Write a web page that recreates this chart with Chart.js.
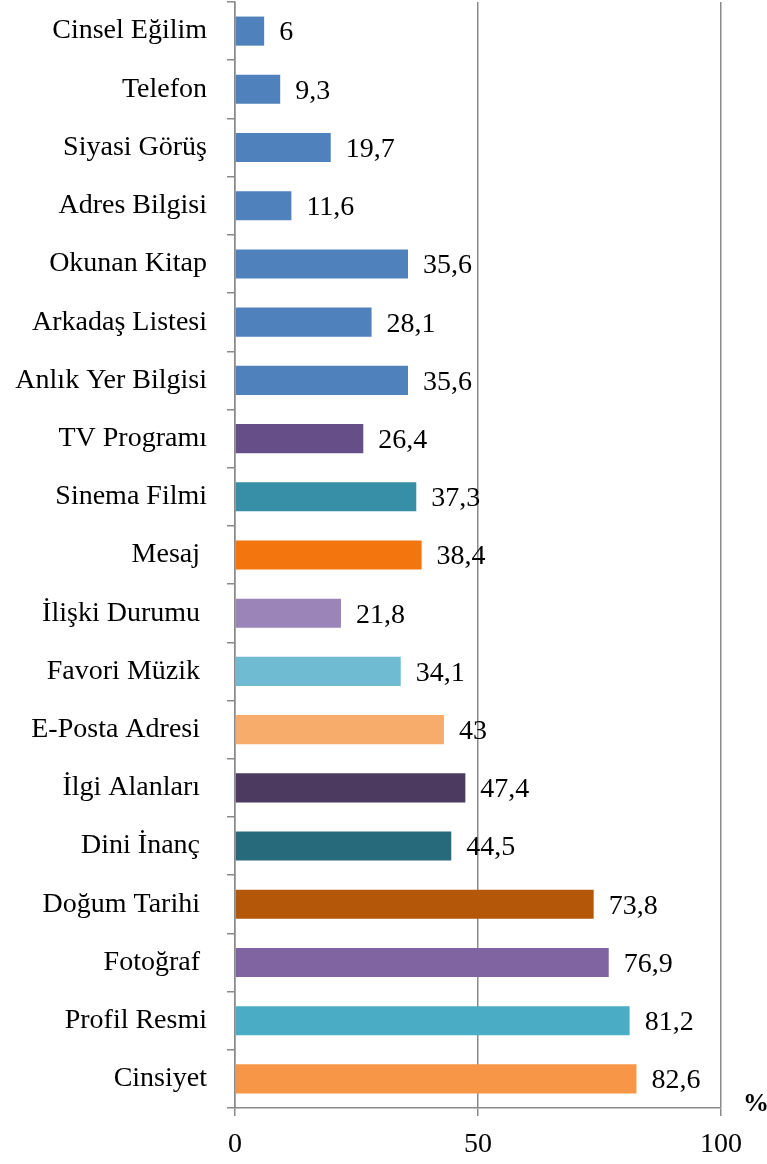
<!DOCTYPE html>
<html>
<head>
<meta charset="utf-8">
<script src="https://cdn.jsdelivr.net/npm/chart.js@4.4.0/dist/chart.umd.min.js"></script>
<style>
  html, body { margin: 0; padding: 0; background: #fff; }
  canvas { display: block; }
</style>
</head>
<body>
<canvas id="chart" width="767" height="1164"></canvas>
<script>
// categories, top to bottom as in the picture
const categories = [
  'Cinsel Eğilim', 'Telefon', 'Siyasi Görüş', 'Adres Bilgisi', 'Okunan Kitap',
  'Arkadaş Listesi', 'Anlık Yer Bilgisi', 'TV Programı', 'Sinema Filmi', 'Mesaj ',
  'İlişki Durumu ', 'Favori Müzik ', 'E-Posta Adresi ', 'İlgi Alanları ', 'Dini İnanç ',
  'Doğum Tarihi ', 'Fotoğraf ', 'Profil Resmi', 'Cinsiyet'
];
const percentages = [6, 9.3, 19.7, 11.6, 35.6, 28.1, 35.6, 26.4, 37.3, 38.4, 21.8, 34.1, 43, 47.4, 44.5, 73.8, 76.9, 81.2, 82.6];
const barColors = [
  '#4f81bd', '#4f81bd', '#4f81bd', '#4f81bd', '#4f81bd', '#4f81bd', '#4f81bd',
  '#664f88', '#368fa7', '#f2750e', '#9b84b7', '#6fbbd1', '#f8ac6c', '#4c3a60',
  '#276a7b', '#b45708', '#8064a2', '#4bacc6', '#f79646'
];
const xTicks = [0, 50, 100];
const unitLabel = '%';

const FONT = 'Liberation Serif';
const SIZE = 28;
const gray = '#8a8a8a';

// writes the value next to each bar, with a decimal comma
const valueLabels = {
  id: 'valueLabels',
  afterDatasetsDraw(chart) {
    const ctx = chart.ctx;
    const meta = chart.getDatasetMeta(0);
    ctx.save();
    ctx.font = SIZE + 'px "' + FONT + '"';
    ctx.fillStyle = '#000';
    ctx.textAlign = 'left';
    ctx.textBaseline = 'middle';
    meta.data.forEach((bar, i) => {
      const txt = String(percentages[i]).replace('.', ',');
      ctx.fillText(txt, bar.x + 15, bar.y + 2);
    });
    // unit at the end of the value axis
    ctx.font = 'bold 26px "' + FONT + '"';
    ctx.fillText(unitLabel, chart.chartArea.right + 22, chart.chartArea.bottom - 4);
    ctx.restore();
  }
};

new Chart(document.getElementById('chart'), {
  type: 'bar',
  data: {
    labels: categories,
    datasets: [{
      data: percentages,
      backgroundColor: barColors,
      borderWidth: 0,
      categoryPercentage: 1,
      barPercentage: 0.5
    }]
  },
  options: {
    indexAxis: 'y',
    responsive: false,
    animation: false,
    layout: { padding: { top: 2, right: 46, left: 0, bottom: 0 } },
    plugins: {
      legend: { display: false },
      tooltip: { enabled: false }
    },
    scales: {
      x: {
        min: 0,
        max: 100,
        afterBuildTicks: (scale) => { scale.ticks = xTicks.map(v => ({ value: v })); },
        afterFit: (scale) => { scale.height = 56; scale.paddingLeft = 0; scale.paddingRight = 0; },
        grid: { color: gray, lineWidth: 1.5, tickLength: 8, drawOnChartArea: true },
        border: { color: gray, width: 1.5 },
        ticks: { color: '#000', padding: 12, font: { family: FONT, size: SIZE } }
      },
      y: {
        afterFit: (scale) => { scale.width = 235; scale.paddingTop = 0; scale.paddingBottom = 0; },
        grid: { offset: true, drawOnChartArea: false, color: gray, lineWidth: 1.5, tickLength: 8 },
        border: { color: gray, width: 1.5 },
        ticks: { color: '#000', padding: 20, autoSkip: false, font: { family: FONT, size: SIZE } }
      }
    }
  },
  plugins: [valueLabels]
});
</script>
</body>
</html>
